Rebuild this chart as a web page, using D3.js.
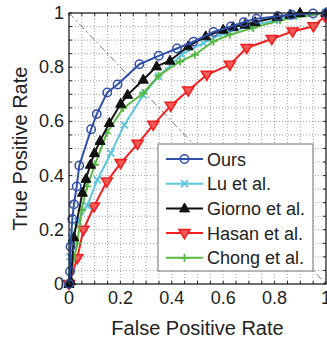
<!DOCTYPE html>
<html><head><meta charset="utf-8">
<script src="https://cdn.jsdelivr.net/npm/d3@7"></script>
<style>body{margin:0;background:#fff}svg{display:block}text{font-family:"Liberation Sans",Arial,sans-serif;fill:#222}</style>
</head><body><div id="c"></div>
<script>
const seriesNames = ["Ours","Lu et al.","Giorno et al.","Hasan et al.","Chong et al."];
const oursX = [0,0.004,0.006,0.013,0.019,0.03,0.04,0.086,0.108,0.149,0.189,0.274,0.349,0.42,0.484,0.562,0.63,0.68,0.73,0.813,0.866,0.95,1];
const oursY = [0,0.046,0.138,0.24,0.294,0.36,0.437,0.571,0.627,0.707,0.736,0.811,0.842,0.869,0.894,0.93,0.95,0.966,0.979,0.988,0.994,0.998,1];
const luX = [0,0.004,0.01,0.035,0.071,0.11,0.163,0.215,0.289,0.348,0.438,0.523,0.6,0.7,0.8,0.873,1];
const luY = [0,0.1,0.17,0.23,0.289,0.384,0.483,0.587,0.698,0.766,0.846,0.889,0.925,0.95,0.972,0.988,1];
const giornoX = [0,0.007,0.019,0.052,0.066,0.083,0.099,0.121,0.157,0.201,0.228,0.289,0.341,0.393,0.464,0.532,0.6,0.639,0.685,0.724,0.81,0.86,0.899,1];
const giornoY = [0,0.01,0.172,0.337,0.388,0.44,0.483,0.528,0.594,0.665,0.698,0.754,0.803,0.824,0.877,0.914,0.938,0.948,0.957,0.966,0.985,0.994,1,1];
const hasanX = [0,0.032,0.056,0.097,0.147,0.201,0.267,0.328,0.396,0.464,0.536,0.626,0.691,0.789,0.87,0.951,0.996];
const hasanY = [0,0.095,0.2,0.286,0.378,0.446,0.517,0.587,0.658,0.714,0.772,0.809,0.871,0.904,0.932,0.951,0.988];
const chongX = [0,0.032,0.049,0.07,0.101,0.147,0.211,0.289,0.348,0.432,0.49,0.562,0.626,0.717,0.821,1];
const chongY = [0,0.15,0.273,0.36,0.44,0.557,0.649,0.704,0.768,0.821,0.846,0.895,0.92,0.945,0.973,1];
const tickValues = [0,0.2,0.4,0.6,0.8,1];
const tickLabels = ["0","0.2","0.4","0.6","0.8","1"];

const W=327,H=341, L=69,T=13,R=326,B=284;
const svg=d3.select("#c").append("svg").attr("width",W).attr("height",H);
const x=d3.scaleLinear().domain([0,1]).range([L,R]);
const y=d3.scaleLinear().domain([0,1]).range([B,T]);
const grid=d3.range(0,1.0001,0.05);
const g=svg.append("g");
g.selectAll(".gx").data(grid.slice(1,-1)).join("line").attr("x1",d=>x(d)).attr("x2",d=>x(d)).attr("y1",T).attr("y2",B)
 .attr("stroke","#888").attr("stroke-width",0.8).attr("stroke-dasharray","1,2");
g.selectAll(".gy").data(grid.slice(1,-1)).join("line").attr("y1",d=>y(d)).attr("y2",d=>y(d)).attr("x1",L).attr("x2",R)
 .attr("stroke","#888").attr("stroke-width",0.8).attr("stroke-dasharray","1,2");
const tl=3;
g.selectAll(".tb").data(grid).join("line").attr("x1",d=>x(d)).attr("x2",d=>x(d)).attr("y1",B).attr("y2",B-tl).attr("stroke","#222");
g.selectAll(".tt").data(grid).join("line").attr("x1",d=>x(d)).attr("x2",d=>x(d)).attr("y1",T).attr("y2",T+tl).attr("stroke","#222");
g.selectAll(".tl").data(grid).join("line").attr("y1",d=>y(d)).attr("y2",d=>y(d)).attr("x1",L).attr("x2",L+tl).attr("stroke","#222");
g.selectAll(".tr").data(grid).join("line").attr("y1",d=>y(d)).attr("y2",d=>y(d)).attr("x1",R).attr("x2",R-tl).attr("stroke","#222");
g.append("line").attr("x1",x(0)).attr("y1",y(1)).attr("x2",x(1)).attr("y2",y(0)).attr("stroke","#555").attr("stroke-width",0.8).attr("stroke-dasharray","7,3,2,3");

const colors=["#2f4fa8","#5cc6dc","#111111","#f02020","#5ab845"];
const data=[[oursX,oursY],[luX,luY],[giornoX,giornoY],[hasanX,hasanY],[chongX,chongY]];
const line=d3.line().x(d=>x(d[0])).y(d=>y(d[1]));
function marker(sel,i,c){
  if(i===0) sel.append("circle").attr("r",4.2).attr("fill","none").attr("stroke",c).attr("stroke-width",1.5);
  else if(i===1) sel.append("path").attr("d","M-3.5,-3.5L3.5,3.5M-3.5,3.5L3.5,-3.5").attr("stroke",c).attr("stroke-width",1.8);
  else if(i===2) sel.append("path").attr("d","M0,-5.5L5,3.5L-5,3.5Z").attr("fill",c).attr("stroke",c).attr("stroke-width",1);
  else if(i===3) sel.append("path").attr("d","M0,5.5L5.5,-3.5L-5.5,-3.5Z").attr("fill","#f35a5a").attr("stroke",c).attr("stroke-width",1.6);
  else sel.append("path").attr("d","M-4,0L4,0M0,-4L0,4").attr("stroke",c).attr("stroke-width",1.8);
}
const order=[3,1,4,2,0];
order.forEach(i=>{
  const pts=data[i][0].map((v,k)=>[v,data[i][1][k]]);
  const s=svg.append("g");
  s.append("path").attr("d",line(pts)).attr("fill","none").attr("stroke",colors[i]).attr("stroke-width",2);
  pts.forEach(p=>{const m=s.append("g").attr("transform",`translate(${x(p[0])},${y(p[1])})`);marker(m,i,colors[i]);});
});
svg.append("rect").attr("x",L).attr("y",T).attr("width",R-L).attr("height",B-T).attr("fill","none").attr("stroke","#222").attr("stroke-width",1.3);
svg.selectAll(".xl").data(tickValues).join("text").attr("x",d=>x(d)).attr("y",B+20).attr("text-anchor","middle").attr("font-size",18).text((d,i)=>tickLabels[i]);
svg.selectAll(".yl").data(tickValues).join("text").attr("x",L-5).attr("y",d=>y(d)+6).attr("text-anchor","end").attr("font-size",18).text((d,i)=>tickLabels[i]);
svg.append("text").attr("x",(L+R)/2).attr("y",335).attr("text-anchor","middle").attr("font-size",20).text("False Positive Rate");
svg.append("text").attr("transform",`translate(27,${(T+B)/2}) rotate(-90)`).attr("text-anchor","middle").attr("font-size",20).text("True Positive Rate");
const lg=svg.append("g");
lg.append("rect").attr("x",158).attr("y",144).attr("width",155).attr("height",127).attr("fill","#fff").attr("stroke","#888").attr("stroke-width",1.2);
seriesNames.forEach((n,i)=>{
  const yy=159+i*24.7;
  lg.append("line").attr("x1",166).attr("x2",203).attr("y1",yy).attr("y2",yy).attr("stroke",colors[i]).attr("stroke-width",2);
  const m=lg.append("g").attr("transform",`translate(184.5,${yy})`);marker(m,i,colors[i]);
  lg.append("text").attr("x",207).attr("y",yy+6.5).attr("font-size",18).text(n);
});
</script></body></html>
